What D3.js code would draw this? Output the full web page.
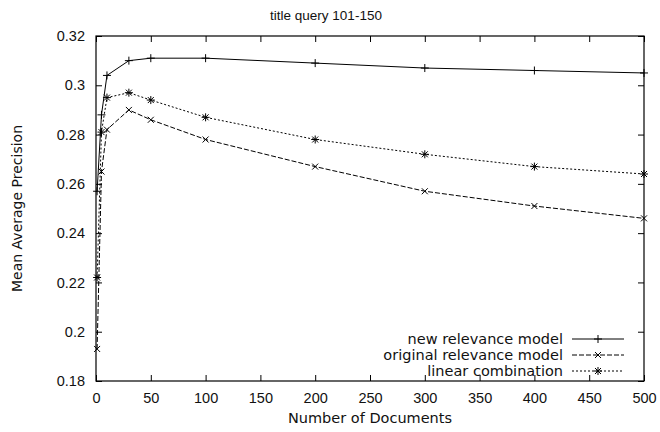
<!DOCTYPE html>
<html><head><meta charset="utf-8">
<script src="https://cdn.jsdelivr.net/npm/d3@7"></script>
<style>body{margin:0;background:#fff}svg{display:block}</style>
</head><body><svg id="c" width="660" height="432"></svg>
<script>
const docs = [1, 5, 10, 30, 50, 100, 200, 300, 400, 500];
const newModel = [0.257, 0.288, 0.304, 0.310, 0.311, 0.311, 0.309, 0.307, 0.306, 0.305];
const origModel = [0.193, 0.265, 0.282, 0.290, 0.286, 0.278, 0.267, 0.257, 0.251, 0.246];
const linearComb = [0.222, 0.281, 0.295, 0.297, 0.294, 0.287, 0.278, 0.272, 0.267, 0.264];
const seriesNames = ["new relevance model", "original relevance model", "linear combination"];
const xTicks = [0, 50, 100, 150, 200, 250, 300, 350, 400, 450, 500];
const yTicks = [0.18, 0.2, 0.22, 0.24, 0.26, 0.28, 0.3, 0.32];
const title = "title query 101-150";
const xLabel = "Number of Documents";
const yLabel = "Mean Average Precision";

const svg = d3.select("#c");
const m = {l: 96, r: 644, t: 36, b: 381};
const x = d3.scaleLinear().domain([0, 500]).range([m.l, m.r]);
const y = d3.scaleLinear().domain([0.18, 0.32]).range([m.b, m.t]);
const fs = 14.5;
const narrow = "'Liberation Sans', Arial, sans-serif";
const wide = "'DejaVu Sans', Verdana, sans-serif";

svg.append("rect").attr("x", m.l).attr("y", m.t).attr("width", m.r - m.l).attr("height", m.b - m.t)
  .attr("fill", "none").attr("stroke", "#000").attr("stroke-width", 1.2);

const axB = svg.append("g").attr("transform", `translate(0,${m.b})`)
  .call(d3.axisBottom(x).tickValues(xTicks).tickSize(-6).tickPadding(12).tickFormat(d3.format("d")));
const axT = svg.append("g").attr("transform", `translate(0,${m.t})`)
  .call(d3.axisTop(x).tickValues(xTicks).tickSize(-6).tickFormat(""));
const axL = svg.append("g").attr("transform", `translate(${m.l},0)`)
  .call(d3.axisLeft(y).tickValues(yTicks).tickSize(-6).tickPadding(11).tickFormat(d => String(+d.toFixed(2))));
const axR = svg.append("g").attr("transform", `translate(${m.r},0)`)
  .call(d3.axisRight(y).tickValues(yTicks).tickSize(-6).tickFormat(""));
[axB, axT, axL, axR].forEach(g => {
  g.select(".domain").remove();
  g.selectAll("line").attr("stroke", "#000");
  g.selectAll("text").attr("font-size", fs).style("font-family", narrow).attr("fill", "#111");
});

svg.append("text").attr("x", 326).attr("y", 20).attr("text-anchor", "middle")
  .style("font-family", narrow).attr("font-size", 13.5).attr("fill", "#111").text(title);
svg.append("text").attr("x", (m.l + m.r) / 2).attr("y", 423).attr("text-anchor", "middle")
  .style("font-family", wide).attr("font-size", 14.5).attr("fill", "#111").text(xLabel);
svg.append("text").attr("transform", `translate(22,${(m.t + m.b) / 2}) rotate(-90)`)
  .attr("text-anchor", "middle").style("font-family", wide).attr("font-size", 14).attr("fill", "#111").text(yLabel);

const series = [
  {name: seriesNames[0], vals: newModel, dash: null, marker: "plus"},
  {name: seriesNames[1], vals: origModel, dash: "5,2", marker: "cross"},
  {name: seriesNames[2], vals: linearComb, dash: "2,2", marker: "star"}
];
const ms = 4;
function marker(g, type, cx, cy) {
  const p = d3.path();
  if (type === "plus" || type === "star") {
    p.moveTo(cx - ms, cy); p.lineTo(cx + ms, cy);
    p.moveTo(cx, cy - ms); p.lineTo(cx, cy + ms);
  }
  if (type === "cross" || type === "star") {
    const s = ms * 0.75;
    p.moveTo(cx - s, cy - s); p.lineTo(cx + s, cy + s);
    p.moveTo(cx - s, cy + s); p.lineTo(cx + s, cy - s);
  }
  g.append("path").attr("d", p.toString()).attr("stroke", "#000").attr("stroke-width", 1).attr("fill", "none");
}
const line = d3.line().x(d => x(d[0])).y(d => y(d[1]));
series.forEach(s => {
  const pts = docs.map((d, i) => [d, s.vals[i]]);
  svg.append("path").datum(pts).attr("d", line).attr("fill", "none").attr("stroke", "#000")
    .attr("stroke-width", 1).attr("stroke-dasharray", s.dash);
  const g = svg.append("g");
  pts.forEach(p => marker(g, s.marker, x(p[0]), y(p[1])));
});

const legRows = [339, 355, 371];
series.forEach((s, i) => {
  const ly = legRows[i];
  svg.append("text").attr("x", 563).attr("y", ly).attr("dy", "0.35em").attr("text-anchor", "end")
    .style("font-family", wide).attr("font-size", 14.5).attr("fill", "#111").text(s.name);
  svg.append("line").attr("x1", 572).attr("x2", 624).attr("y1", ly).attr("y2", ly)
    .attr("stroke", "#000").attr("stroke-width", 1).attr("stroke-dasharray", s.dash);
  marker(svg, s.marker, 598, ly);
});
</script></body></html>
